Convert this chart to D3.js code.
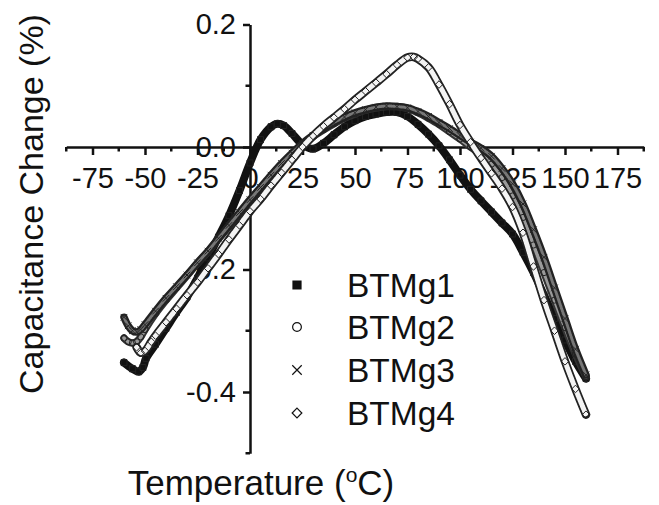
<!DOCTYPE html>
<html>
<head>
<meta charset="utf-8">
<script src="https://cdn.jsdelivr.net/npm/d3@7"></script>
<style>
  body { margin: 0; background: #fff; }
  svg { display: block; font-family: "Liberation Sans", Arial, sans-serif; }
</style>
</head>
<body>
<svg id="chart" width="659" height="505"></svg>
<script>
// values
const seriesNames = ["BTMg1", "BTMg2", "BTMg3", "BTMg4"];

const btmg1Temp = [-60, -56, -53, -51, -49.5, -45, -40, -35, -30, -25, -20, -15, -10, -5, 0, 5, 10, 13, 16, 20, 25, 30, 35, 40, 45, 50, 55, 60, 65, 70, 75, 80, 85, 90, 95, 100, 105, 110, 115, 120, 125, 130, 135, 140, 145, 150, 155, 160];
const btmg1Cap = [-0.352, -0.362, -0.367, -0.36, -0.345, -0.322, -0.296, -0.27, -0.245, -0.214, -0.181, -0.147, -0.112, -0.071, -0.026, 0.012, 0.033, 0.038, 0.035, 0.022, 0.004, -0.003, 0.006, 0.02, 0.033, 0.043, 0.05, 0.054, 0.057, 0.057, 0.05, 0.037, 0.021, 0.002, -0.021, -0.046, -0.069, -0.088, -0.106, -0.124, -0.142, -0.172, -0.205, -0.242, -0.28, -0.315, -0.35, -0.378];

const btmg2Temp = [-60, -58, -56, -54, -52, -50, -45, -40, -35, -30, -25, -20, -15, -10, -5, 0, 5, 10, 15, 20, 25, 30, 35, 40, 45, 50, 55, 60, 65, 70, 75, 80, 85, 90, 95, 100, 105, 110, 115, 120, 125, 130, 135, 140, 145, 150, 155, 160];
const btmg2Cap = [-0.312, -0.318, -0.32, -0.318, -0.31, -0.298, -0.272, -0.25, -0.23, -0.21, -0.19, -0.171, -0.15, -0.13, -0.109, -0.088, -0.068, -0.048, -0.029, -0.012, 0.004, 0.017, 0.028, 0.038, 0.047, 0.054, 0.06, 0.064, 0.066, 0.066, 0.063, 0.056, 0.047, 0.037, 0.025, 0.013, 0.0, -0.012, -0.028, -0.05, -0.08, -0.115, -0.16, -0.205, -0.25, -0.295, -0.338, -0.375];

const btmg3Temp = [-60, -58, -56, -54, -52, -50, -45, -40, -35, -30, -25, -20, -15, -10, -5, 0, 5, 10, 15, 20, 25, 30, 35, 40, 45, 50, 55, 60, 65, 70, 75, 80, 85, 90, 95, 100, 105, 110, 115, 120, 125, 130, 135, 140, 145, 150, 155, 160];
const btmg3Cap = [-0.278, -0.292, -0.3, -0.302, -0.298, -0.29, -0.268, -0.247, -0.228, -0.209, -0.189, -0.17, -0.149, -0.128, -0.107, -0.086, -0.066, -0.046, -0.027, -0.01, 0.006, 0.019, 0.03, 0.04, 0.049, 0.056, 0.061, 0.065, 0.067, 0.066, 0.064, 0.058, 0.05, 0.04, 0.03, 0.019, 0.008, -0.002, -0.015, -0.035, -0.06, -0.093, -0.135, -0.18, -0.23, -0.28, -0.33, -0.372];

const btmg4Temp = [-54, -52, -50, -47, -45, -40, -35, -30, -25, -20, -15, -10, -5, 0, 5, 10, 15, 20, 25, 30, 35, 40, 45, 50, 55, 60, 65, 70, 75, 78, 80, 85, 90, 95, 100, 105, 110, 115, 120, 125, 130, 135, 140, 145, 150, 155, 160];
const btmg4Cap = [-0.327, -0.336, -0.333, -0.318, -0.308, -0.286, -0.264, -0.242, -0.221, -0.198, -0.175, -0.151, -0.128, -0.105, -0.085, -0.063, -0.042, -0.021, 0.0, 0.018, 0.034, 0.048, 0.062, 0.077, 0.091, 0.105, 0.119, 0.134, 0.146, 0.147, 0.144, 0.13, 0.102, 0.07, 0.036, 0.008, -0.018, -0.043, -0.068, -0.098, -0.14, -0.195, -0.25, -0.3, -0.35, -0.395, -0.437];

const xTicks = [-75, -50, -25, 0, 25, 50, 75, 100, 125, 150, 175];
const xTickLabels = ["-75", "-50", "-25", "0", "25", "50", "75", "100", "125", "150", "175"];
const xMinorTicks = [-87.5, -62.5, -37.5, -12.5, 12.5, 37.5, 62.5, 87.5, 112.5, 137.5, 162.5, 187.5];
const yTicks = [0.2, 0.0, -0.2, -0.4];
const yTickLabels = ["0.2", "0.0", "-0.2", "-0.4"];
const yMinorTicks = [0.1, -0.1, -0.3, -0.5];

const svg = d3.select("#chart");

const x = d3.scaleLinear().domain([-87.5, 187.5]).range([66.25, 643.75]);
const y = d3.scaleLinear().domain([-0.5, 0.2]).range([453.25, 24.5]);

// x axis through y = 0
const xAxis = svg.append("g")
    .attr("transform", `translate(0,${y(0)})`)
    .call(d3.axisBottom(x)
        .tickValues(xTicks)
        .tickFormat((d, i) => xTickLabels[i])
        .tickSize(8)
        .tickSizeOuter(0)
        .tickPadding(12))
    .attr("font-size", null)
    .attr("font-family", null);
xAxis.select(".domain").attr("stroke", "#111").attr("stroke-width", 2.5);
xAxis.selectAll(".tick line").attr("stroke", "#111").attr("stroke-width", 2.5);
xAxis.selectAll(".tick text").attr("font-size", 29).attr("fill", "#111");
xAxis.selectAll(".minor")
    .data(xMinorTicks)
    .enter().append("line")
    .attr("class", "minor")
    .attr("x1", d => x(d)).attr("x2", d => x(d))
    .attr("y1", 0).attr("y2", 4.5)
    .attr("stroke", "#111").attr("stroke-width", 2.5);

// y axis through x = 0
const yAxis = svg.append("g")
    .attr("transform", `translate(${x(0)},0)`)
    .call(d3.axisLeft(y)
        .tickValues(yTicks)
        .tickFormat((d, i) => yTickLabels[i])
        .tickSize(7)
        .tickSizeOuter(0)
        .tickPadding(7))
    .attr("font-size", null)
    .attr("font-family", null);
yAxis.select(".domain").attr("stroke", "#111").attr("stroke-width", 2.5);
yAxis.selectAll(".tick line").attr("stroke", "#111").attr("stroke-width", 2.5);
yAxis.selectAll(".tick text").attr("font-size", 29).attr("fill", "#111");
yAxis.selectAll(".minor")
    .data(yMinorTicks)
    .enter().append("line")
    .attr("class", "minor")
    .attr("x1", -4.5).attr("x2", 0)
    .attr("y1", d => y(d)).attr("y2", d => y(d))
    .attr("stroke", "#111").attr("stroke-width", 2.5);

// axis titles
svg.append("text")
    .attr("transform", "translate(43,204) rotate(-90)")
    .attr("text-anchor", "middle")
    .attr("font-size", 34)
    .attr("fill", "#111")
    .text("Capacitance Change (%)");

const xTitle = svg.append("text")
    .attr("x", 261).attr("y", 495)
    .attr("text-anchor", "middle")
    .attr("font-size", 35)
    .attr("fill", "#111");
xTitle.append("tspan").text("Temperature (");
xTitle.append("tspan").attr("font-size", 21).attr("dy", -13).text("o");
xTitle.append("tspan").attr("dy", 13).text("C)");

// series
const makeData = (t, c) => t.map((d, i) => ({ t: d, c: c[i] }));
const series = [
    { name: seriesNames[0], data: makeData(btmg1Temp, btmg1Cap), symbol: d3.symbolSquare, size: 36, fill: "#111" },
    { name: seriesNames[1], data: makeData(btmg2Temp, btmg2Cap), symbol: d3.symbolCircle, size: 30, fill: "none" },
    { name: seriesNames[2], data: makeData(btmg3Temp, btmg3Cap), symbol: d3.symbolTimes || d3.symbolX, size: 30, fill: "none" },
    { name: seriesNames[3], data: makeData(btmg4Temp, btmg4Cap), symbol: d3.symbolDiamond2 || d3.symbolDiamond, size: 36, fill: "none" }
];

const line = d3.line()
    .x(d => x(d.t))
    .y(d => y(d.c))
    .curve(d3.curveCatmullRom);

const plot = svg.append("g");

// dense marker band look: outer dark stroke plus hatched inner stroke
const bandStyles = [
    [{ stroke: "#111", width: 8 }],
    [{ stroke: "#333", width: 7.5 }, { stroke: "#9a9a9a", width: 3.5, dash: "1,1.2" }],
    [{ stroke: "#222", width: 7.5 }, { stroke: "#777", width: 3, dash: "1,1.5" }],
    [{ stroke: "#222", width: 8.5 }, { stroke: "#f4f4f4", width: 5, dash: "1.2,1.2" }]
];

series.forEach((s, i) => {
    bandStyles[i].forEach(st => {
        plot.append("path")
            .datum(s.data)
            .attr("d", line)
            .attr("fill", "none")
            .attr("stroke", st.stroke)
            .attr("stroke-width", st.width)
            .attr("stroke-linejoin", "round")
            .attr("stroke-linecap", "round")
            .attr("stroke-dasharray", st.dash || null);
    });
    plot.selectAll(".pt" + i)
        .data(s.data)
        .enter().append("path")
        .attr("class", "pt" + i)
        .attr("transform", d => `translate(${x(d.t)},${y(d.c)})`)
        .attr("d", d3.symbol().type(s.symbol).size(s.size))
        .attr("fill", s.fill)
        .attr("stroke", "#222")
        .attr("stroke-width", 1);
});

// legend
const legendY = [285, 327, 370, 413];
const legend = svg.append("g");
series.forEach((s, i) => {
    legend.append("path")
        .attr("transform", `translate(297,${legendY[i]})`)
        .attr("d", d3.symbol().type(s.symbol).size(i === 0 ? 64 : 60))
        .attr("fill", s.fill === "none" ? "#fff" : s.fill)
        .attr("stroke", "#111")
        .attr("stroke-width", 1.2);
    legend.append("text")
        .attr("x", 347)
        .attr("y", legendY[i] + 12)
        .attr("font-size", 33.5)
        .attr("fill", "#111")
        .text(s.name);
});
</script>
</body>
</html>
